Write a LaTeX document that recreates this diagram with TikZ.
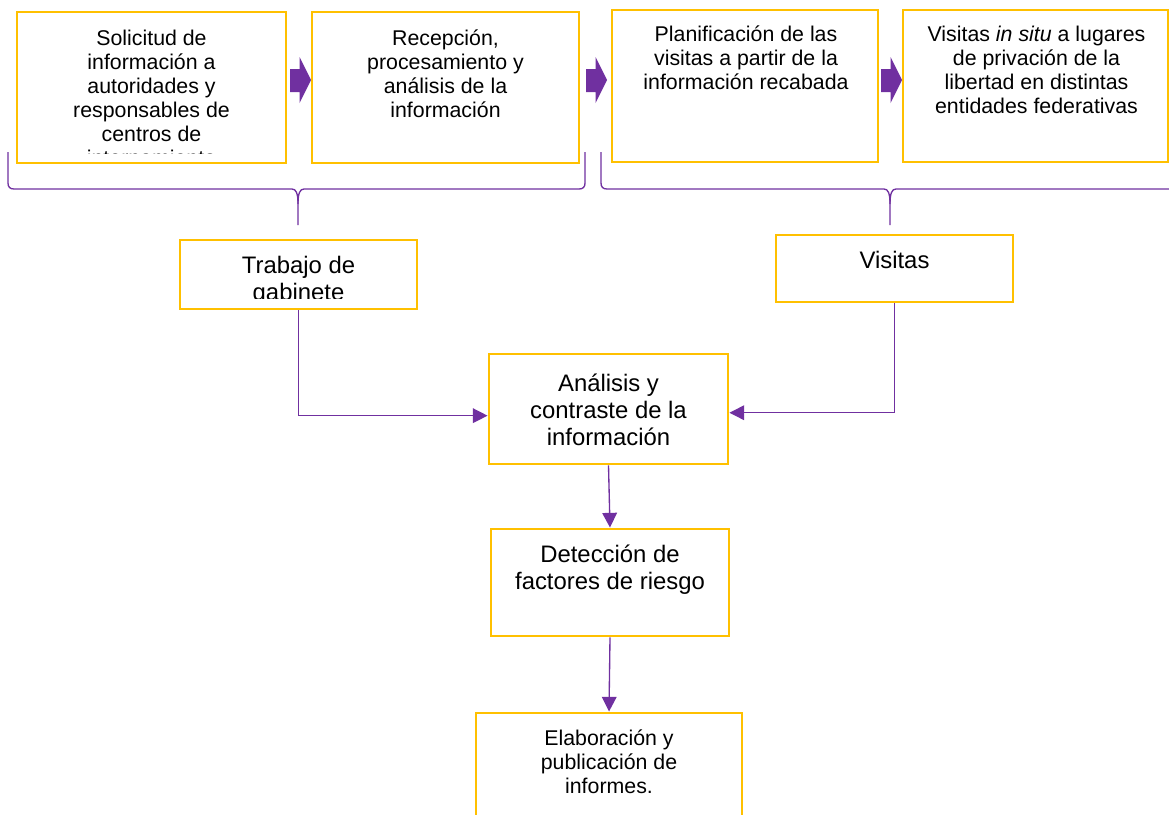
\documentclass[tikz,border=0pt]{standalone}
\usepackage{fontspec}
\setmainfont{Liberation Sans}
\usetikzlibrary{arrows.meta}
\definecolor{boxyellow}{HTML}{FFC000}
\definecolor{flowpurple}{HTML}{7030A0}
\def\smalltext{\fontsize{16pt}{18pt}\selectfont}
\def\bigtext{\fontsize{17.9pt}{20pt}\selectfont}
\tikzset{
  box/.style={draw=boxyellow, line width=2.2pt, rectangle, inner sep=0pt},
  txt/.style={align=center, inner sep=0pt, anchor=base, text=black},
  flow/.style={draw=flowpurple, line width=1pt, -{Triangle[length=11pt,width=11pt]}},
  brace/.style={draw=flowpurple, line width=1pt},
  chevron/.style={fill=flowpurple}
}

\begin{document}
\begin{tikzpicture}[x=0.75pt,y=-0.75pt]
\useasboundingbox (0,0) rectangle (1169,814);
\clip (0,0) rectangle (1169,814);
\fill[white] (0,0) rectangle (1169,814);

\node[box, minimum width=201.75pt, minimum height=113.25pt] (sol) at (151.5,87.5) {};
\node[box, minimum width=200.25pt, minimum height=113.25pt] (rec) at (445.5,87.5) {};
\node[box, minimum width=199.5pt, minimum height=114pt] (pla) at (745,86) {};
\node[box, minimum width=199.125pt, minimum height=114pt] (ent) at (1035.75,86) {};
\node[box, minimum width=177.75pt, minimum height=51.75pt] (gab) at (298.5,274.5) {};
\node[box, minimum width=177.75pt, minimum height=50.25pt] (vis) at (894.5,268.5) {};
\node[box, minimum width=179.25pt, minimum height=82.5pt] (ana) at (608.5,409) {};
\node[box, minimum width=178.5pt, minimum height=80.25pt] (det) at (610,582.5) {};
\node[box, minimum width=199.5pt, minimum height=112.5pt] (ela) at (609,788) {};

\begin{scope}
\clip (20,15) rectangle (283,153);
\node[txt, font=\smalltext] (soltxt) at (151.5,165.7) {Solicitud de\\información a\\autoridades y\\responsables de\\centros de\\internamiento};
\end{scope}
\node[txt, font=\smalltext] (rectxt) at (445.5,117.7) {Recepción,\\procesamiento y\\análisis de la\\información};
\node[txt, font=\smalltext] (platxt) at (746,89.7) {Planificación de las\\visitas a partir de la\\información recabada};
\node[txt, font=\smalltext] (enttxt) at (1036.5,113.7) {Visitas \textit{in situ} a lugares\\de privación de la\\libertad en distintas\\entidades federativas};
\begin{scope}
\clip (183,243) rectangle (414,298.5);
\node[txt, font=\bigtext] (gabtxt) at (298.5,300) {Trabajo de\\gabinete};
\end{scope}
\node[txt, font=\bigtext] (vistxt) at (894.5,268) {Visitas};
\node[txt, font=\bigtext] (anatxt) at (608.5,445) {Análisis y\\contraste de la\\información};
\node[txt, font=\bigtext] (dettxt) at (610,589) {Detección de\\factores de riesgo};
\node[txt, font=\smalltext] (elatxt) at (609,793) {Elaboración y\\publicación de\\informes.};

\foreach \dx in {0,296,591}
  \fill[chevron, shift={(\dx,0)}] (290,69) -- (299.5,69) -- (299.5,57) -- (311,80) -- (299.5,103) -- (299.5,92) -- (290,92) -- cycle;

\draw[brace] (8,152) -- (8,183) .. controls (8,187) and (10,189) .. (14,189) -- (292,189) .. controls (296,189) and (298,193) .. (298,204) -- (298,225);
\draw[brace] (298,204) .. controls (298,193) and (300,189) .. (304,189) -- (579,189) .. controls (583,189) and (585,187) .. (585,183) -- (585,152);
\draw[brace] (601,152) -- (601,183) .. controls (601,187) and (603,189) .. (607,189) -- (884,189) .. controls (888,189) and (890,193) .. (890,204) -- (890,225);
\draw[brace] (890,204) .. controls (890,193) and (892,189) .. (896,189) -- (1180,189);

\draw[flow] (gab.south) |- ([yshift=-5pt]ana.west);
\draw[flow] (vis.south) |- ([yshift=-2.8pt]ana.east);
\draw[flow] (ana.south) -- (det.north);
\draw[flow] (det.south) -- (ela.north);
\end{tikzpicture}
\end{document}
